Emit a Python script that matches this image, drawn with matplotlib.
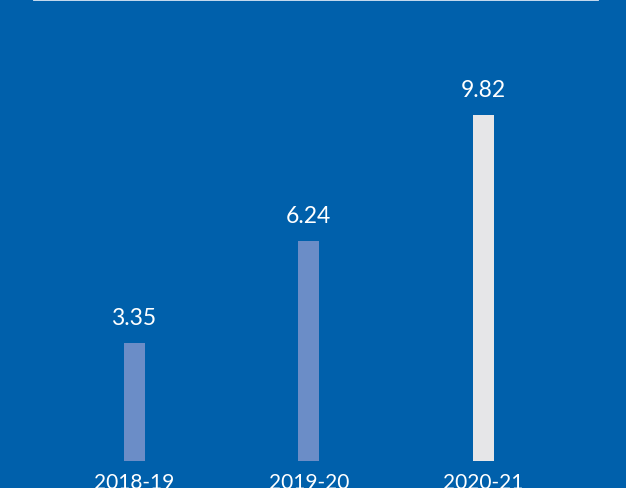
import matplotlib
matplotlib.use("Agg")
import matplotlib.pyplot as plt
from matplotlib.lines import Line2D

# ── Data ────────────────────────────────────────────────────────────────
years = ["2018-19", "2019-20", "2020-21"]
values = [3.35, 6.24, 9.82]
labels = ["3.35", "6.24", "9.82"]

BG = "#0060AB"
BAR_COLORS = ["#6B8DC7", "#6B8DC7", "#E6E6E8"]

plt.rcParams["font.family"] = ["Lato", "DejaVu Sans"]

W, H = 626, 489
fig = plt.figure(figsize=(W / 100, H / 100), dpi=100, facecolor=BG)

# axes bottom sits on the bar baseline
base_px = 27
ax = fig.add_axes([0, base_px / H, 1, (H - base_px) / H])
ax.set_facecolor(BG)

x = list(range(len(years)))
ax.bar(x, values, width=0.12, color=BAR_COLORS)

ax.set_xlim(-0.767, 2.815)
ax.set_ylim(0, 13.125)

for xi, v, lab in zip(x, values, labels):
    ax.annotate(lab, (xi, v), xytext=(0, 14), textcoords="offset points",
                ha="center", va="baseline", color="white", fontsize=16.5)

ax.set_xticks(x)
ax.set_xticklabels(years, color="white", fontsize=15)
ax.tick_params(axis="x", length=0, pad=8)
ax.set_yticks([])
for s in ax.spines.values():
    s.set_visible(False)

# thin rule across the top
fig.add_artist(Line2D([34 / W, 598 / W], [1 - 1 / H, 1 - 1 / H],
                      transform=fig.transFigure, color="#D8E6F5", linewidth=1.3))

fig.savefig("out.png", dpi=100, facecolor=BG)
